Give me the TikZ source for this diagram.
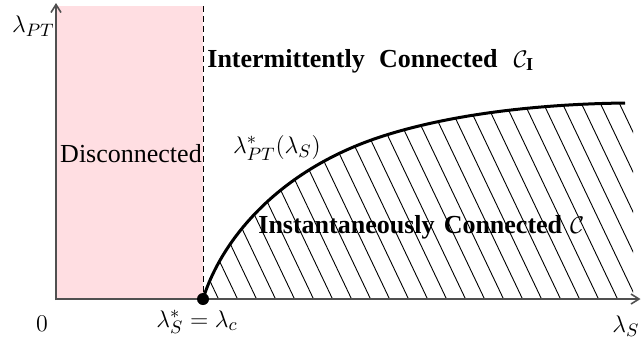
\documentclass[tikz,border=0pt]{standalone}
\usepackage{fontspec}
\setmainfont{Liberation Serif}
\usetikzlibrary{arrows.meta}
\definecolor{pinkfill}{RGB}{255,222,226}
\definecolor{axisgray}{RGB}{80,80,80}
\tikzset{
  axisline/.style={draw=axisgray,line width=0.8pt,-{Straight Barb[length=4pt,width=5pt]}},
  borderline/.style={draw=black,line width=0.5pt,dash pattern=on 3pt off 2pt},
  hatchline/.style={draw=black,line width=0.45pt},
  curveline/.style={draw=black,line width=1.5pt},
  lbl/.style={inner sep=0pt},
}
\begin{document}
\begin{tikzpicture}[x=0.5pt,y=-0.5pt,font=\fontsize{13}{15}\selectfont]
\useasboundingbox (0,0) rectangle (641,339);
\fill[pinkfill] (57,6) rectangle (203,299);
\draw[borderline] (203,6) -- (203,299);
\def\curvepath{(203,299) .. controls (222,238) and (280,170) .. (380,137) .. controls (450,114) and (540,104) .. (625,103)}
\begin{scope}
  \clip \curvepath -- (633,103) -- (633,299) -- cycle;
  \foreach \a in {100,119,...,660} \draw[hatchline] (\a,90) -- ++(100,210);
\end{scope}
\draw[curveline] \curvepath;
\draw[axisline] (56,300) -- (56,3);
\draw[axisline] (55,299) -- (640.5,299);
\coordinate (crit) at (203,299);
\fill (crit) circle[radius=3pt];
\node[lbl,anchor=base east] (ylab) at (55,32) {$\lambda_{PT}$};
\node[lbl] (zero) at (42,324) {$0$};
\node[lbl] (lc) at (197,322) {$\lambda_S^*=\lambda_c$};
\node[lbl] (xlab) at (626,326) {$\lambda_S$};
\node[lbl] (disc) at (131,154) {Disconnected};
\node[lbl,anchor=base west] (ic) at (207,67) {\textbf{Intermittently\hspace{0.55em}Connected}\hspace{8pt}$\mathcal{C}_{\mathbf{I}}$};
\node[lbl] (curvelab) at (277,148) {$\lambda_{PT}^*(\lambda_S)$};
\node[lbl,anchor=base west] (inst) at (258,233) {\textbf{Instantaneously\hspace{0.35em}Connected}\hspace{4pt}$\mathcal{C}$};
\end{tikzpicture}
\end{document}
